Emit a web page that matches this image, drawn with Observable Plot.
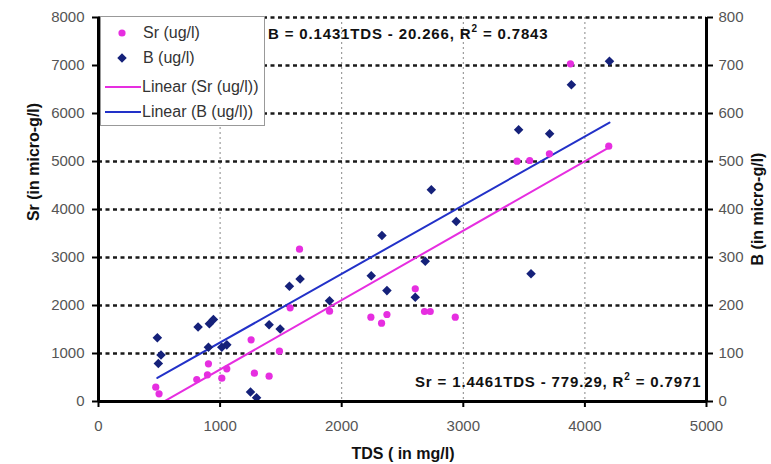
<!DOCTYPE html>
<html><head><meta charset="utf-8">
<script src="https://cdn.jsdelivr.net/npm/d3@7"></script>
<script src="https://cdn.jsdelivr.net/npm/@observablehq/plot@0.6"></script>
<style>
body{margin:0;background:#fff;font-family:"Liberation Sans",Arial,sans-serif;}
#wrap{position:relative;width:771px;height:464px;overflow:hidden;}
#wrap > svg{position:absolute;left:0;top:0;}
#wrap g[aria-label$="tick label"]{fill:#555;}
.ov{position:absolute;white-space:nowrap;line-height:1;color:#111;}
.eq{font-weight:bold;font-size:15px;letter-spacing:0.85px;}
.eq sup{font-size:10px;vertical-align:top;position:relative;top:-2px;}
.ttl{font-weight:bold;font-size:16px;}
#legend{position:absolute;left:100px;top:16px;width:163px;height:108px;background:#fff;border:1px solid #999;font-size:16px;color:#333;}
#legend .it{position:absolute;left:0;height:20px;display:flex;align-items:center;}
#legend .it svg{display:block;}
</style></head><body><div id="wrap"></div><script>
// ---- data ----
const srTDS = [471,498,808,896,904,1014,1055,1255,1282,1403,1488,1576,1653,1900,2240,2328,2372,2605,2681,2728,2934,3442,3546,3708,3881,4196];
const srVals = [298,160,458,556,785,485,681,1285,590,527,1048,1952,3173,1881,1757,1632,1813,2347,1875,1875,1757,5007,5021,5160,7035,5319];
const bTDS = [484,514,492,819,912,945,904,1014,1055,1250,1300,1403,1494,1570,1658,1900,2243,2331,2372,2605,2687,2737,2942,3455,3557,3710,3889,4202];
const bVals = [133,97,79,155,162,171,113,113,118,20,8,160,151,240,255,210,262,346,231,217,292,441,375,566,266,558,660,709];
const seriesNames = ["Sr (ug/l)","B (ug/l)"];
const trendNames = ["Linear (Sr (ug/l))","Linear (B (ug/l))"];
const srFit = {slope:1.4461, intercept:-779.29, r2:0.7971};
const bFit = {slope:0.1431, intercept:-20.266, r2:0.7843};
const xTicks = [0,1000,2000,3000,4000,5000];
const yTicks = [0,1000,2000,3000,4000,5000,6000,7000,8000];
const bScaleFactor = 10; // right axis (B) = left axis (Sr) / 10
const xLabel = "TDS ( in mg/l)";
const yLabel = "Sr (in micro-g/l)";
const y2Label = "B (in micro-g/l)";

const magenta = "#e62ee0", navy = "#15217a", blue = "#2231c8";

const srData = srTDS.map((x,i)=>({x, y: srVals[i]}));
const bData = bTDS.map((x,i)=>({x, y: bVals[i]*bScaleFactor}));
const srLine = d3.extent(srTDS).map(x=>({x, y: srFit.slope*x+srFit.intercept}));
const bLine = d3.extent(bTDS).map(x=>({x, y: (bFit.slope*x+bFit.intercept)*bScaleFactor}));
const xDom = d3.extent(xTicks), yDom = d3.extent(yTicks);

const chart = Plot.plot({
  width: 771, height: 464,
  marginLeft: 98, marginRight: 65, marginTop: 17, marginBottom: 63,
  style: {fontFamily: '"Liberation Sans", Arial, sans-serif', fontSize: "15px", background: "transparent"},
  x: {domain: xDom},
  y: {domain: yDom},
  marks: [
    Plot.gridX(xTicks.filter(t=>t>xDom[0] && t<xDom[1]), {stroke:"#888", strokeOpacity:1, strokeWidth:1, strokeDasharray:"2,3"}),
    Plot.gridY(yTicks.filter(t=>t>yDom[0]), {stroke:"#1a1a1a", strokeOpacity:1, strokeWidth:2.5, strokeDasharray:"4,3.5"}),
    Plot.line(srLine, {x:"x", y:"y", stroke:magenta, strokeWidth:2, clip:true}),
    Plot.line(bLine, {x:"x", y:"y", stroke:blue, strokeWidth:2, clip:true}),
    Plot.dot(srData, {x:"x", y:"y", r:3.6, fill:magenta}),
    Plot.dot(bData, {x:"x", y:"y", r:4.3, symbol:"diamond2", fill:navy}),
    Plot.ruleX(xDom, {stroke:"#000", strokeWidth:3}),
    Plot.ruleY([yDom[0]], {stroke:"#000", strokeWidth:3}),
    Plot.axisX({anchor:"bottom", ticks:xTicks, tickFormat:d=>String(d), tickSize:6, tickPadding:13, strokeWidth:2, label:null}),
    Plot.axisY({anchor:"left", ticks:yTicks, tickFormat:d=>String(d), tickSize:6, tickPadding:8, strokeWidth:2, label:null}),
    Plot.axisY({anchor:"right", ticks:yTicks, tickFormat:d=>String(d/bScaleFactor), tickSize:6, tickPadding:6, strokeWidth:2, label:null})
  ]
});
const wrap = document.getElementById("wrap");
wrap.appendChild(chart);

function ov(html, cls, css){
  const d = document.createElement("div");
  d.className = "ov " + cls; d.innerHTML = html; d.style.cssText = css;
  wrap.appendChild(d); return d;
}
const fmtEq = (name, f, digits) => `${name} = ${f.slope}TDS - ${(-f.intercept).toFixed(digits)}, R<sup>2</sup> = ${f.r2}`;
ov(fmtEq("B", bFit, 3), "eq", "left:268px;top:26px;");
ov(fmtEq("Sr", srFit, 2), "eq", "left:415px;top:374px;");
ov(xLabel, "ttl", "left:403px;top:446px;transform:translateX(-50%);");
ov(yLabel, "ttl", "left:34px;top:162px;transform:translate(-50%,-50%) rotate(-90deg);");
ov(y2Label, "ttl", "left:758px;top:209px;transform:translate(-50%,-50%) rotate(-90deg);");

// legend
const lg = document.createElement("div"); lg.id = "legend"; wrap.appendChild(lg);
const items = [
  {name: seriesNames[0], icon: `<circle cx="21" cy="10" r="3.6" fill="${magenta}"/>`},
  {name: seriesNames[1], icon: `<path d="${d3.symbol(d3.symbolDiamond2, 58)()}" transform="translate(21,10)" fill="${navy}"/>`},
  {name: trendNames[0], icon: `<line x1="4" x2="40" y1="10" y2="10" stroke="${magenta}" stroke-width="2"/>`},
  {name: trendNames[1], icon: `<line x1="4" x2="40" y1="10" y2="10" stroke="${blue}" stroke-width="2"/>`}
];
const tops = [6, 31, 60, 85];
items.forEach((it,i)=>{
  const e = document.createElement("div"); e.className = "it"; e.style.top = tops[i]+"px";
  e.innerHTML = `<svg width="41" height="20" style="flex:none">${it.icon}</svg><span style="margin-left:${i<2?1:0}px">${it.name}</span>`;
  lg.appendChild(e);
});
</script></body></html>
